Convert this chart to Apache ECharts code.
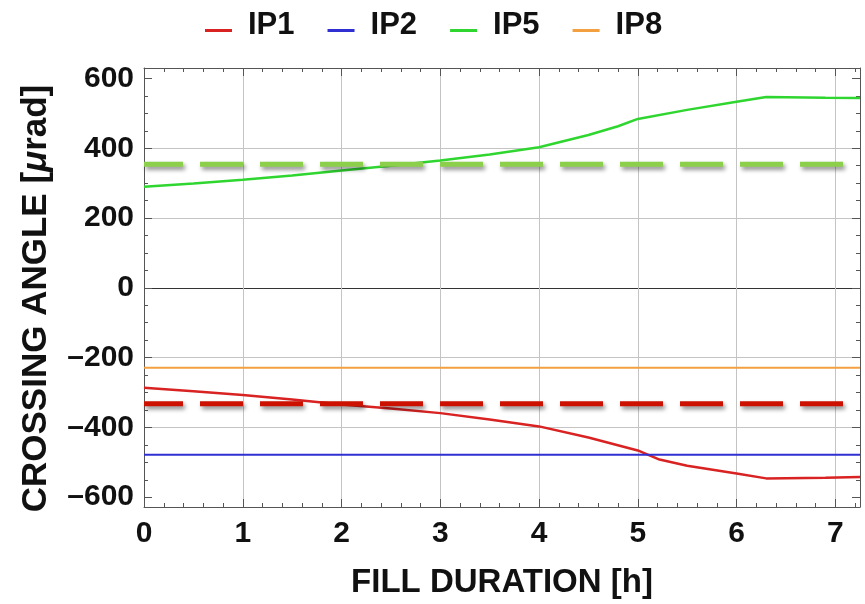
<!DOCTYPE html>
<html>
<head>
<meta charset="utf-8">
<script src="https://cdn.jsdelivr.net/npm/echarts@6/dist/echarts.min.js"></script>
<style>
  html, body { margin: 0; padding: 0; background: #fff; }
  #chart { width: 865px; height: 604px; }
</style>
</head>
<body>
<div id="chart"></div>
<script>
// Crossing angle per interaction point over the fill, in µrad vs hours.
const seriesNames = ['IP1', 'IP2', 'IP5', 'IP8'];

const ip1Hours = [0, 0.5, 1, 1.5, 2, 2.5, 3, 3.5, 4, 4.5, 5, 5.22, 5.5, 6, 6.3, 6.9, 7.25];
const ip1Angle = [-286, -296, -307, -320, -334, -346, -359, -377, -397, -429, -466, -492, -510, -532, -546, -544, -542];

const ip5Hours = [0, 0.5, 1, 1.5, 2, 2.5, 3, 3.5, 4, 4.5, 4.8, 5, 5.5, 6, 6.3, 6.9, 7.25];
const ip5Angle = [290, 299, 310, 322, 336, 350, 365, 382, 403, 438, 463, 484, 510, 533, 547, 545, 544];

const ip2Hours = [0, 7.25];
const ip2Angle = [-478, -478];

const ip8Hours = [0, 7.25];
const ip8Angle = [-229, -229];

// Dashed reference levels
const refHours = [0, 7.25];
const ip5RefLevel = 354;
const ip1RefLevel = -332;

// Axis ticks and labels
const xTickLabels = [0, 1, 2, 3, 4, 5, 6, 7];
const yTickLabels = [-600, -400, -200, 0, 200, 400, 600];
const xRange = [0, 7.25];
const yRange = [-628, 630];

const xMinorTicks = [];
for (let k = 0; k <= 36; k++) xMinorTicks.push(+(k * 0.2).toFixed(1));
const yMinorTicks = [];
for (let v = -600; v <= 600; v += 50) yMinorTicks.push(v);

const pairs = (xs, ys) => xs.map((x, i) => [x, ys[i]]);

const colors = {
  IP1: '#d92222',
  IP2: '#2f2fd2',
  IP5: '#2fd62f',
  IP8: '#f3a040'
};

const FONT = '"Liberation Sans", Arial, sans-serif';
const frameColor = '#555';
const gridColor = '#c4c4c4';

// Short legend stroke sitting in the lower part of its box
const legendIcon = 'path://M0,0L0.01,0L0.01,0.01Z M0,10L27,10L27,13L0,13Z';

function tickAxis(kind, position, values, len, extra) {
  const range = kind === 'x' ? xRange : yRange;
  return Object.assign({
    type: 'value',
    position: position,
    min: range[0],
    max: range[1],
    axisLine: { show: false, onZero: false },
    axisTick: { show: true, inside: true, length: len, customValues: values, lineStyle: { color: frameColor, width: 1 } },
    axisLabel: { show: false },
    splitLine: { show: false }
  }, extra || {});
}

const framedLine = { show: true, onZero: false, lineStyle: { color: frameColor, width: 1 } };

const chart = echarts.init(document.getElementById('chart'), null, { renderer: 'canvas' });

const lineSeries = (name, data, width) => ({
  name: name,
  type: 'line',
  xAxisIndex: 0,
  yAxisIndex: 0,
  data: data,
  showSymbol: false,
  symbol: 'none',
  smooth: false,
  color: colors[name],
  lineStyle: { width: width, color: colors[name] },
  z: 3
});

const refSeries = (name, level, color) => ({
  name: name,
  type: 'line',
  xAxisIndex: 0,
  yAxisIndex: 0,
  data: refHours.map(h => [h, level]),
  symbol: 'none',
  silent: true,
  lineStyle: {
    width: 5,
    color: color,
    type: [43, 17],
    dashOffset: 4,
    shadowColor: 'rgba(0,0,0,0.45)',
    shadowBlur: 4,
    shadowOffsetX: 2,
    shadowOffsetY: 3
  },
  z: 4
});

chart.setOption({
  animation: false,
  backgroundColor: '#fff',
  textStyle: { fontFamily: FONT },
  grid: { left: 144, right: 5, top: 68, bottom: 93, containLabel: false },
  legend: {
    data: seriesNames,
    left: 200,
    top: 5,
    icon: legendIcon,
    itemWidth: 27,
    itemHeight: 13,
    itemGap: 33,
    itemStyle: { borderWidth: 0 },
    textStyle: {
      fontFamily: FONT,
      fontSize: 31,
      fontWeight: 'bold',
      color: '#111',
      padding: [0, 0, 0, 11]
    }
  },
  xAxis: [
    {
      type: 'value',
      position: 'bottom',
      min: xRange[0],
      max: xRange[1],
      name: 'FILL DURATION [h]',
      nameLocation: 'middle',
      nameGap: 59,
      nameTextStyle: { fontFamily: FONT, fontSize: 33, fontWeight: 'bold', color: '#111' },
      axisLine: framedLine,
      axisTick: { show: true, inside: true, length: 8, customValues: xTickLabels, lineStyle: { color: frameColor } },
      axisLabel: {
        customValues: xTickLabels,
        margin: 12,
        fontFamily: FONT,
        fontSize: 30,
        fontWeight: 'bold',
        color: '#111'
      },
      splitLine: { show: true, lineStyle: { color: gridColor, width: 1 } }
    },
    tickAxis('x', 'bottom', xMinorTicks, 4),
    tickAxis('x', 'top', xTickLabels, 8, { axisLine: framedLine }),
    tickAxis('x', 'top', xMinorTicks, 4)
  ],
  yAxis: [
    {
      type: 'value',
      position: 'left',
      min: yRange[0],
      max: yRange[1],
      name: 'CROSSING ANGLE [{i|μ}rad]',
      nameLocation: 'middle',
      nameRotate: 90,
      nameGap: 90,
      nameTextStyle: {
        fontFamily: FONT,
        fontSize: 35,
        fontWeight: 'bold',
        color: '#111',
        padding: [0, 22, 0, 0],
        rich: {
          i: { fontFamily: FONT, fontSize: 35, fontWeight: 'bold', fontStyle: 'italic', color: '#111' }
        }
      },
      axisLine: framedLine,
      axisTick: { show: true, inside: true, length: 8, customValues: yTickLabels, lineStyle: { color: frameColor } },
      axisLabel: {
        customValues: yTickLabels,
        margin: 10,
        fontFamily: FONT,
        fontSize: 30,
        fontWeight: 'bold',
        color: '#111',
        formatter: v => (v < 0 ? '\u2013' + Math.abs(v) : String(v))
      },
      splitLine: {
        show: true,
        lineStyle: {
          width: 1,
          color: ['rgba(0,0,0,0)', gridColor, gridColor, '#333', gridColor, gridColor, 'rgba(0,0,0,0)']
        }
      }
    },
    tickAxis('y', 'left', yMinorTicks, 4),
    tickAxis('y', 'right', yTickLabels, 8, { axisLine: framedLine }),
    tickAxis('y', 'right', yMinorTicks, 4)
  ],
  series: [
    lineSeries('IP1', pairs(ip1Hours, ip1Angle), 2.5),
    lineSeries('IP2', pairs(ip2Hours, ip2Angle), 2),
    lineSeries('IP5', pairs(ip5Hours, ip5Angle), 2.5),
    lineSeries('IP8', pairs(ip8Hours, ip8Angle), 2),
    refSeries('IP5 reference', ip5RefLevel, '#8ccf4a'),
    refSeries('IP1 reference', ip1RefLevel, '#cc1100')
  ]
});
</script>
</body>
</html>
